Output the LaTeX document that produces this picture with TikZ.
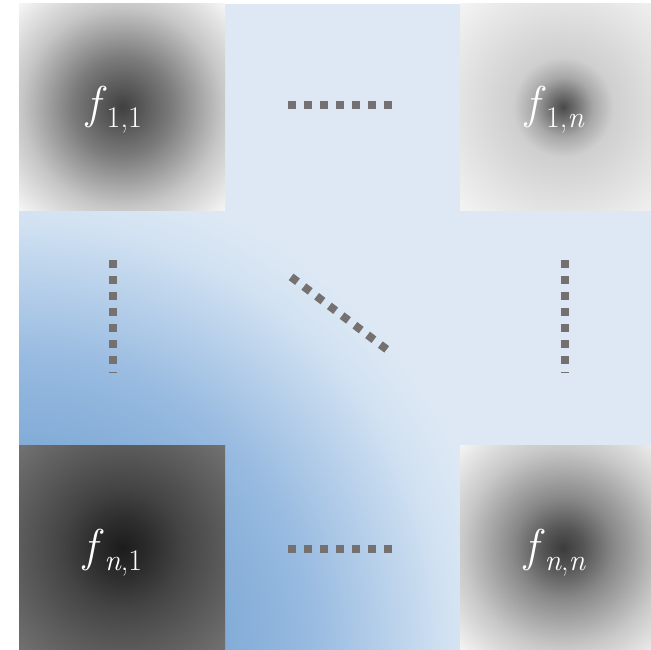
\documentclass[tikz,border=0pt]{standalone}
\definecolor{bgblue}{HTML}{DDE8F4}
\definecolor{bA}{HTML}{6E9ECE}
\definecolor{bB}{HTML}{82ACD7}
\definecolor{bC}{HTML}{97BAE0}
\definecolor{bD}{HTML}{B0CBE8}
\definecolor{bE}{HTML}{D2E2F2}
\definecolor{dotgray}{HTML}{767171}
% f11 colours
\definecolor{pA}{HTML}{404040}
\definecolor{pB}{HTML}{7C7C7C}
\definecolor{pC}{HTML}{C6C6C6}
\definecolor{pD}{HTML}{F6F6F6}
% f1n colours
\definecolor{qA}{HTML}{4A4A4A}
\definecolor{qB}{HTML}{777777}
\definecolor{qC}{HTML}{A8A8A8}
\definecolor{qD}{HTML}{CFCFCF}
\definecolor{qE}{HTML}{E2E2E2}
\definecolor{qF}{HTML}{F5F5F5}
% fn1 colours
\definecolor{rA}{HTML}{1C1C1C}
\definecolor{rB}{HTML}{2E2E2E}
\definecolor{rC}{HTML}{444444}
\definecolor{rD}{HTML}{5A5A5A}
\definecolor{rE}{HTML}{727272}
% fnn colours
\definecolor{sA}{HTML}{3C3C3C}
\definecolor{sB}{HTML}{555555}
\definecolor{sC}{HTML}{888888}
\definecolor{sD}{HTML}{C8C8C8}
\definecolor{sE}{HTML}{F5F5F5}
% radius of drawn circle corresponds to 25bp
\pgfdeclareradialshading{blueshade}{\pgfpoint{0bp}{0bp}}{color(0bp)=(bA); color(10.68bp)=(bB); color(15.1bp)=(bC); color(18.25bp)=(bD); color(22.4bp)=(bE); color(25bp)=(bgblue); color(50bp)=(bgblue)}
\pgfdeclareradialshading{gOneOne}{\pgfpoint{0bp}{0bp}}{color(0bp)=(pA); color(8.35bp)=(pB); color(16.65bp)=(pC); color(24.35bp)=(pD); color(50bp)=(pD)}
\pgfdeclareradialshading{gOneN}{\pgfpoint{0bp}{0bp}}{color(0bp)=(qA); color(2.5bp)=(qB); color(5bp)=(qC); color(8.35bp)=(qD); color(16.65bp)=(qE); color(25bp)=(qF); color(50bp)=(qF)}
\pgfdeclareradialshading{gNOne}{\pgfpoint{0bp}{0bp}}{color(0bp)=(rA); color(5bp)=(rB); color(10bp)=(rC); color(16.65bp)=(rD); color(24.35bp)=(rE); color(50bp)=(rE)}
\pgfdeclareradialshading{gNN}{\pgfpoint{0bp}{0bp}}{color(0bp)=(sA); color(3.35bp)=(sB); color(8.35bp)=(sC); color(16.65bp)=(sD); color(24.35bp)=(sE); color(50bp)=(sE)}
\newcommand{\fsub}[1]{\textit{f}\kern0pt\raisebox{-9pt}{\fontsize{30}{36}\selectfont #1}}
\begin{document}
\begin{tikzpicture}[x=1pt,y=-1pt,
  lbl/.style={text=white,inner sep=0pt,font=\fontsize{46}{54}\selectfont},
  dotline/.style={draw=dotgray,line width=8pt,dash pattern=on 8pt off 8pt,line cap=butt}]
\useasboundingbox (0,0) rectangle (651,650);
% blue background
\fill[bgblue] (19,4) rectangle (651,650);
\begin{scope}
  \clip (19,4) rectangle (651,650);
  \shade[shading=blueshade] (19,650) circle[radius=480pt];
\end{scope}
% squares
\begin{scope}
  \clip (19,4) rectangle (225,210);
  \shade[shading=gOneOne] (122,107) circle[radius=150pt];
\end{scope}
\begin{scope}
  \clip (460,4) rectangle (651,210);
  \shade[shading=gOneN] (563,107) circle[radius=150pt];
\end{scope}
\begin{scope}
  \clip (19,445) rectangle (225,650);
  \shade[shading=gNOne] (122,548) circle[radius=150pt];
\end{scope}
\begin{scope}
  \clip (460,445) rectangle (651,650);
  \shade[shading=gNN] (563,548) circle[radius=150pt];
\end{scope}
% labels
\node[lbl] (f11) at (114,110) {\fsub{1,1}};
\node[lbl] (f1n) at (555,110) {\fsub{1,\textit{n}}};
\node[lbl] (fn1) at (113,553) {\fsub{\textit{n},1}};
\node[lbl] (fnn) at (555,553) {\fsub{\textit{n},\textit{n}}};
% dotted lines
\coordinate (t1) at (288,105);
\coordinate (t2) at (392,105);
\coordinate (b1) at (288,549);
\coordinate (b2) at (392,549);
\coordinate (l1) at (113,260);
\coordinate (l2) at (113,373);
\coordinate (r1) at (565,260);
\coordinate (r2) at (565,373);
\coordinate (d1) at (291.1,276.9);
\coordinate (d2) at (386.7,349.4);
\draw[dotline] (t1) -- (t2);
\draw[dotline] (b1) -- (b2);
\draw[dotline] (l1) -- (l2);
\draw[dotline] (r1) -- (r2);
\draw[dotline] (d1) -- (d2);
\end{tikzpicture}
\end{document}
